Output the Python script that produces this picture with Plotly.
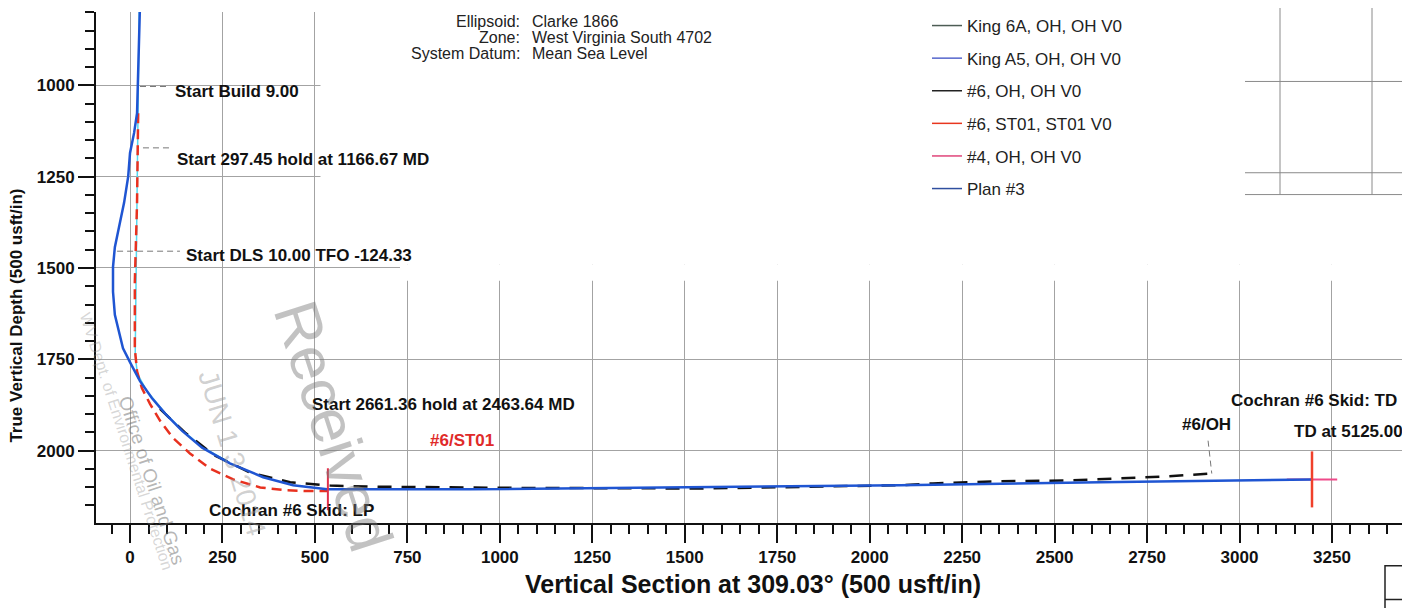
import plotly.graph_objects as go

FONT = "Liberation Sans, Arial, sans-serif"

# ---------------- data (Vertical Section usft, TVD usft) ----------------
plan3_vs = [27, 22, 19, 11, 0, -5, -16, -30, -41, -46, -46, -41, -19, 3, 27, 59, 95, 141,
            195, 270, 360, 441, 533, 919, 1541, 2082, 2623, 3196]
plan3_tvd = [777, 1000, 1076, 1130, 1185, 1250, 1321, 1389, 1443, 1497, 1565, 1628, 1720,
             1764, 1810, 1856, 1899, 1946, 1992, 2035, 2073, 2095, 2106, 2106, 2101, 2095,
             2087, 2079]

st01_vs = [22, 19, 13, 13, 19, 32, 54, 81, 116, 162, 216, 279, 352, 425, 487, 535]
st01_tvd = [1076, 1321, 1538, 1720, 1783, 1829, 1872, 1918, 1965, 2008, 2049, 2079, 2101,
            2109, 2111, 2111]

oh6_vs = [81, 149, 230, 324, 433, 541, 676, 1000, 1541, 2082, 2171, 2353, 2534, 2712, 2804, 2920]
oh6_tvd = [1886, 1951, 2014, 2060, 2087, 2096, 2099, 2102, 2104, 2095, 2090, 2084, 2082,
           2076, 2071, 2063]

kinga5_vs = [25, 22, 18, 15, 14, 20, 45, 95, 141, 195, 270]
kinga5_tvd = [777, 1000, 1300, 1600, 1740, 1790, 1836, 1897, 1944, 1990, 2033]

lp_vs, lp_tvd = [535], [2106]
td_vs, td_tvd = [3196], [2079]

legend_names = ["King 6A, OH, OH V0", "King A5, OH, OH V0", "#6, OH, OH V0",
                "#6, ST01, ST01 V0", "#4, OH, OH V0", "Plan #3"]
legend_colors = ["#4d5d55", "#5566cc", "#222222", "#e8361e", "#e0457a", "#2f4f9f"]

x_ticks = list(range(0, 3251, 250))
y_ticks = list(range(1000, 2001, 250))

labels = [
    ("Start Build 9.00", 116, 1016, "#111111"),
    ("Start 297.45 hold at 1166.67 MD", 122, 1204, "#111111"),
    ("Start DLS 10.00 TFO -124.33", 146, 1465, "#111111"),
    ("Start 2661.36 hold at 2463.64 MD", 487, 1875, "#111111"),
    ("#6/ST01", 806, 1973, "#e02a2a"),
    ("Cochran #6 Skid: LP", 208, 2163, "#111111"),
    ("#6/OH", 2840, 1929, "#111111"),
    ("Cochran #6 Skid: TD", 2972, 1864, "#111111"),
    ("TD at 5125.00", 3142, 1948, "#111111"),
]

header = [("Ellipsoid:", "Clarke 1866"),
          ("Zone:", "West Virginia South 4702"),
          ("System Datum:", "Mean Sea Level")]

# ---------------- geometry ----------------
# the page puts the figure 8 px from the top-left corner
OFF = 8
W, H = 1410 - OFF, 608 - OFF
PL, PR, PT, PB = 96, 1410, 8, 523          # plot box in page pixels
ML, MR, MT, MB = PL - OFF, 0, PT - OFF, (H + OFF) - PB
X_RANGE = [-92, 3461]
Y_RANGE = [2198.4, 798.9]


def pxx(x):
    return (x - PL) / (PR - PL)


def pxy(y):
    return 1 - (y - PT) / (PB - PT)


fig = go.Figure()

# data traces
fig.add_trace(go.Scatter(x=kinga5_vs, y=kinga5_tvd, mode="lines", showlegend=False,
                         line=dict(color="#55d8ef", width=1.5), hoverinfo="skip"))
fig.add_trace(go.Scatter(x=td_vs, y=td_tvd, mode="markers", showlegend=False,
                         marker=dict(symbol="line-ew", size=36,
                                     line=dict(color="#ef4a8a", width=2))))
fig.add_trace(go.Scatter(x=oh6_vs, y=oh6_tvd, mode="lines", showlegend=False,
                         line=dict(color="#111111", width=2.5, dash="14px,10px")))
fig.add_trace(go.Scatter(x=st01_vs, y=st01_tvd, mode="lines", showlegend=False,
                         line=dict(color="#e8311f", width=2.5, dash="10px,6px")))
fig.add_trace(go.Scatter(x=plan3_vs, y=plan3_tvd, mode="lines", showlegend=False,
                         line=dict(color="#1f55d2", width=2.5)))
fig.add_trace(go.Scatter(x=lp_vs, y=lp_tvd, mode="markers", showlegend=False,
                         marker=dict(symbol="line-ns", size=30,
                                     line=dict(color="#e0304a", width=2))))
fig.add_trace(go.Scatter(x=td_vs, y=td_tvd, mode="markers", showlegend=False,
                         marker=dict(symbol="line-ns", size=40,
                                     line=dict(color="#f0402a", width=2.5))))

# legend entries
for n, c in zip(legend_names, legend_colors):
    fig.add_trace(go.Scatter(x=[None], y=[None], mode="lines", name=n, legendgroup=n,
                             line=dict(color=c, width=1.5)))

shapes = [
    # blank region of the sheet (no grid)
    dict(type="rect", xref="x", yref="y", x0=515, x1=3600, y0=700, y1=1490,
         fillcolor="white", line=dict(width=0), layer="between"),
    dict(type="rect", xref="x", yref="y", x0=730, x1=3600, y0=1490, y1=1535,
         fillcolor="white", line=dict(width=0), layer="between"),
]
# leader lines
for (x0, y0, x1, y1) in [(27, 1003, 108, 1003), (35, 1171, 108, 1171),
                         (-35, 1454, 135, 1454), (2915, 1973, 2925, 2063)]:
    shapes.append(dict(type="line", xref="x", yref="y", x0=x0, y0=y0, x1=x1, y1=y1,
                       line=dict(color="#777777", width=1, dash="6px,4px"), layer="above"))
# sheet table (top right) and box (bottom right)
for (a, b, c, d) in [(1280, 0, 1280, 192), (1372, 0, 1372, 192), (1245, 78, 1410, 78),
                     (1245, 170, 1410, 170), (1245, 192, 1410, 192)]:
    shapes.append(dict(type="line", xref="paper", yref="paper", x0=pxx(a), y0=pxy(b),
                       x1=pxx(c), y1=pxy(d), line=dict(color="#8a8a8a", width=1),
                       layer="above"))
shapes.append(dict(type="rect", xref="paper", yref="paper", x0=pxx(1385), x1=pxx(1420),
                   y0=pxy(566), y1=pxy(620), line=dict(color="#222222", width=1.5)))
shapes.append(dict(type="line", xref="paper", yref="paper", x0=pxx(1385), x1=pxx(1420),
                   y0=pxy(600), y1=pxy(600), line=dict(color="#222222", width=1.5)))

annotations = []
for t, x, y, c in labels:
    annotations.append(dict(text=t, x=x, y=y, xref="x", yref="y", xanchor="left",
                            yanchor="middle", showarrow=False,
                            font=dict(family=FONT, size=17, color=c, weight="bold")))
for i, (k, v) in enumerate(header):
    yy = pxy(18 + 16 * i)
    annotations.append(dict(text=k, x=pxx(522), y=yy, xref="paper", yref="paper",
                            xanchor="right", yanchor="middle", showarrow=False,
                            font=dict(family=FONT, size=16, color="#222222")))
    annotations.append(dict(text=v, x=pxx(530), y=yy, xref="paper", yref="paper",
                            xanchor="left", yanchor="middle", showarrow=False,
                            font=dict(family=FONT, size=16, color="#222222")))
# y axis title
annotations.append(dict(text="True Vertical Depth (500 usft/in)", x=pxx(17), y=pxy(314),
                        xref="paper", yref="paper", textangle=-90, showarrow=False,
                        xanchor="center", yanchor="middle",
                        font=dict(family=FONT, size=17, color="#111111", weight="bold")))
# receipt stamp
for t, cx, cy, s, ang, col in [
    ("Received", 333, 425, 62, 72, "rgba(120,120,120,0.45)"),
    ("JUN 1 3 2014", 232, 452, 28, 73, "rgba(150,150,150,0.45)"),
    ("Office of Oil and Gas", 152, 480, 19, 72, "rgba(110,110,110,0.5)"),
    ("WV Dept. of Environmental Protection", 126, 440, 16, 72, "rgba(140,140,140,0.35)"),
]:
    annotations.append(dict(text=t, x=pxx(cx), y=pxy(cy), xref="paper", yref="paper",
                            textangle=ang, showarrow=False, xanchor="center",
                            yanchor="middle",
                            font=dict(family=FONT, size=s, color=col)))

fig.update_layout(
    template="none",
    width=W, height=H,
    margin=dict(l=ML, r=MR, t=MT, b=MB, pad=0),
    paper_bgcolor="white", plot_bgcolor="white",
    font=dict(family=FONT, color="#111111"),
    shapes=shapes,
    annotations=annotations,
    showlegend=True,
    legend=dict(x=pxx(927), y=pxy(3.5), xanchor="left", yanchor="top",
                bgcolor="rgba(0,0,0,0)", borderwidth=0,
                font=dict(family=FONT, size=17, color="#222222"),
                traceorder="grouped", tracegroupgap=7.5, itemwidth=30),
    xaxis=dict(range=X_RANGE, autorange=False, tickmode="array", tickvals=x_ticks,
               ticktext=[str(v) for v in x_ticks],
               ticks="outside", ticklen=18, tickwidth=2, tickcolor="#111111",
               showline=True, linewidth=2, linecolor="#111111", mirror=False,
               zeroline=False, showgrid=True, gridcolor="#a3a3a3", gridwidth=1,
               automargin=False,
               minor=dict(dtick=50, tick0=0, ticks="outside", ticklen=9, tickwidth=1.5,
                          tickcolor="#111111", showgrid=False),
               tickfont=dict(family=FONT, size=17, color="#111111", weight="bold"),
               title=dict(text="Vertical Section at 309.03° (500 usft/in)", standoff=9,
                          font=dict(family=FONT, size=25, color="#111111", weight="bold"))),
    yaxis=dict(range=Y_RANGE, autorange=False, tickmode="array", tickvals=y_ticks,
               ticktext=[str(v) for v in y_ticks],
               ticks="outside", ticklen=16, tickwidth=2, tickcolor="#111111",
               showline=True, linewidth=2, linecolor="#111111", mirror=False,
               zeroline=False, showgrid=True, gridcolor="#a3a3a3", gridwidth=1,
               automargin=False,
               minor=dict(dtick=50, tick0=1000, ticks="outside", ticklen=9, tickwidth=1.5,
                          tickcolor="#111111", showgrid=False),
               tickfont=dict(family=FONT, size=17, color="#111111", weight="bold")),
)

fig.write_html("out.html")
